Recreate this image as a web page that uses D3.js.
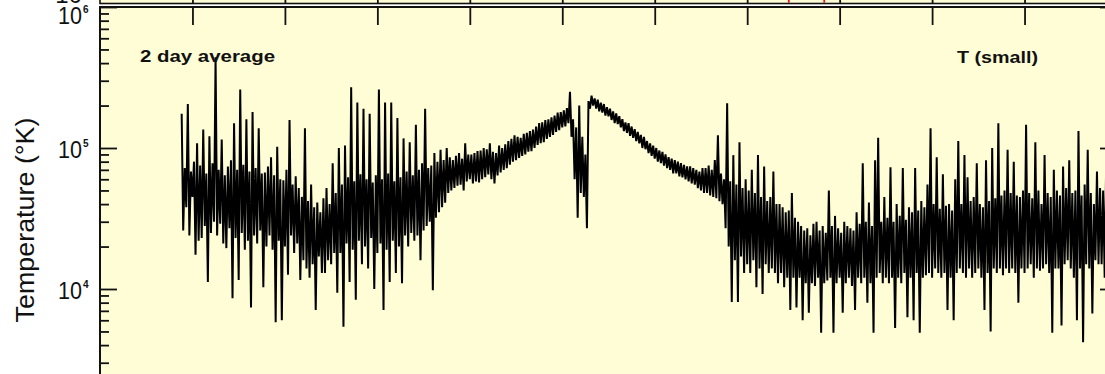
<!DOCTYPE html>
<html>
<head>
<meta charset="utf-8">
<script src="https://cdn.jsdelivr.net/npm/d3@7"></script>
<style>
  html, body { margin: 0; padding: 0; background: #ffffff; }
  svg { display: block; }
  text { font-family: "Liberation Sans", Arial, Helvetica, sans-serif; fill: #111; }
</style>
</head>
<body>
<svg id="chart" width="1105" height="374"></svg>
<script>
// ---- data -------------------------------------------------------------
// Time axis in days; tick marks every 60 days.
const tickDays = [60, 120, 180, 240, 300, 360, 420, 480, 540, 600];
// Event markers on the panel above.
const markerDays = [447, 470];
// Log-axis decades (K).
const decades = [1e3, 1e4, 1e5, 1e6];
const decadeExponents = ["3", "4", "5", "6"];
// First sample day and sampling step (daily values of the 2-day average).
const startDay = 53;
const stepDays = 1;
// Temperature, in units of 1000 K.
const temperature_kK = [
  175, 26, 72, 38, 205, 24, 68, 45, 80, 17.5,
  108, 22, 75, 23, 135, 28, 66, 11.2, 121, 25,
  78, 30, 440, 24, 70, 29, 115, 21, 64, 19.5,
  74, 27, 82, 8.6, 150, 23, 70, 11.6, 260, 25,
  76, 19, 160, 22, 68, 7.4, 180, 24, 72, 21,
  138, 26, 66, 10.3, 67, 20, 74, 24, 86, 19,
  64, 5.8, 102, 22, 60, 6, 59, 20, 70, 12.6,
  158, 24, 55, 18, 63, 21, 52, 11.6, 45, 16,
  138, 14, 42, 12, 55, 15, 38, 7.1, 41, 17,
  35, 13, 44, 13, 52, 16, 40, 15, 78, 18,
  48, 9.4, 100, 18, 55, 5.4, 104, 21, 62, 11.2,
  270, 19, 58, 8.4, 210, 22, 65, 15, 190, 20,
  60, 14, 175, 23, 57, 10, 64, 18, 260, 21,
  60, 7.1, 210, 19, 66, 11.2, 210, 22, 58, 13,
  163, 20, 62, 11, 117, 24, 68, 20, 110, 25,
  64, 22, 146, 24, 70, 16, 78, 26, 190, 28,
  72, 30, 75, 9.8, 92, 32, 80, 35, 97, 38,
  82, 41, 100, 48, 86, 50, 82, 52, 88, 54,
  92, 55, 84, 50, 108, 58, 90, 60, 90, 56,
  92, 58, 95, 57, 96, 60, 100, 62, 98, 65,
  108, 60, 94, 56, 92, 64, 104, 67, 100, 70,
  106, 72, 112, 76, 116, 80, 123, 82, 120, 85,
  118, 88, 126, 90, 128, 94, 132, 95, 135, 100,
  142, 105, 150, 108, 152, 110, 158, 116, 160, 120,
  165, 124, 170, 130, 178, 134, 180, 140, 185, 142,
  192, 150, 250, 120, 160, 60, 140, 32, 200, 48,
  120, 45, 90, 27, 215, 190, 235, 200, 225, 190,
  220, 182, 210, 178, 205, 170, 195, 168, 190, 158,
  182, 150, 176, 148, 168, 140, 160, 132, 152, 128,
  150, 122, 142, 118, 136, 112, 130, 108, 124, 100,
  120, 98, 112, 92, 108, 88, 104, 84, 100, 80,
  96, 78, 94, 75, 90, 72, 86, 70, 84, 66,
  82, 66, 80, 63, 78, 62, 76, 60, 74, 58,
  74, 56, 72, 55, 70, 52, 68, 50, 72, 48,
  72, 48, 75, 46, 70, 45, 82, 44, 123, 42,
  66, 40, 60, 27, 208, 20, 58, 8.1, 89, 16,
  55, 8.1, 110, 17, 52, 13, 60, 15, 50, 13,
  70, 16, 48, 10.3, 89, 14, 45, 9.2, 74, 15,
  42, 13, 45, 14, 68, 13, 40, 11, 40, 13,
  38, 10.3, 35, 12, 36, 7.1, 48, 12, 32, 7.4,
  30, 12, 28, 6, 26, 11, 27, 6.8, 24, 11,
  29, 10.5, 30, 12, 26, 4.9, 28, 11, 25, 11.5,
  50, 12, 28, 4.9, 33, 11, 27, 12, 25, 6.8,
  30, 11, 28, 12, 27, 10.5, 26, 7.1, 35, 12,
  29, 11, 78, 12, 30, 8, 41, 11, 28, 4.9,
  82, 12, 118, 13, 30, 11, 45, 12, 32, 11,
  73, 12, 30, 5.3, 40, 12, 33, 11, 72, 13,
  31, 6.3, 38, 12, 35, 6, 72, 13, 36, 4.9,
  42, 12, 38, 12.5, 55, 13, 138, 12, 40, 14,
  86, 13, 37, 12, 65, 13, 39, 7.1, 40, 12,
  36, 6, 60, 13, 112, 14, 40, 13, 89, 12,
  62, 14, 42, 12, 45, 13, 78, 14, 40, 12,
  38, 7.1, 82, 13, 42, 5, 100, 14, 44, 13,
  150, 14, 46, 12.5, 50, 14, 97, 13, 48, 14,
  80, 13, 46, 8, 45, 14, 50, 13, 146, 14,
  48, 15, 44, 12, 110, 14, 50, 13.5, 40, 14,
  89, 15, 48, 13, 45, 4.9, 70, 14, 50, 14,
  46, 5.5, 74, 15, 52, 16, 82, 14, 48, 12,
  50, 6, 132, 14, 46, 4.2, 55, 15, 97, 14,
  48, 6.7, 40, 16, 68, 15, 52, 15, 50, 12,
  82, 15, 55, 16, 70, 14, 52, 15, 60, 16, 54, 20
];
const panelTitle = "2 day average";
const seriesName = "T (small)";
const yTitle = "Temperature (\u00B0K)";

// ---- layout -----------------------------------------------------------
const svg = d3.select("#chart");
const W = 1105, H = 374;
const plotLeft = 100, plotRight = 1117;
const plotTop = 7, plotBottom = 430;   // lower edge lies below the visible area
const prevBottom = 3.5;                // lower edge of the panel above
const bg = "#fffdd6";
const ink = "#111";

const x = d3.scaleLinear().domain([0, 660]).range([plotLeft, plotRight]);
const y = d3.scaleLog().domain([1e3, 1e6]).range([plotBottom, plotTop]);

const series = temperature_kK.map((v, i) => ({ day: startDay + i * stepDays, T: v * 1000 }));

// panel above (only its lower strip shows)
svg.append("rect").attr("x", plotLeft).attr("y", -40)
  .attr("width", plotRight - plotLeft).attr("height", prevBottom + 40)
  .attr("fill", bg).attr("stroke", ink).attr("stroke-width", 1.6);

svg.append("g").attr("transform", `translate(0,${prevBottom})`)
  .call(d3.axisTop(x).tickValues(tickDays).tickSize(18).tickFormat(""))
  .call(g => g.select(".domain").remove())
  .call(g => g.selectAll(".tick line").attr("stroke", ink).attr("stroke-width", 1.8));

svg.append("g").selectAll("line").data(markerDays).join("line")
  .attr("x1", d => x(d)).attr("x2", d => x(d))
  .attr("y1", prevBottom - 0.8).attr("y2", prevBottom - 12)
  .attr("stroke", "#e8141b").attr("stroke-width", 1.8);

// cut-off decade label of the panel above
svg.append("clipPath").attr("id", "above-clip")
  .append("rect").attr("x", 0).attr("y", -30).attr("width", plotLeft).attr("height", 33);
svg.append("text").attr("clip-path", "url(#above-clip)")
  .attr("x", 82).attr("y", 2.5).attr("text-anchor", "end")
  .attr("font-size", 24).text("10");

// main panel
svg.append("rect").attr("x", plotLeft).attr("y", plotTop)
  .attr("width", plotRight - plotLeft).attr("height", plotBottom - plotTop)
  .attr("fill", bg);

svg.append("clipPath").attr("id", "plot-clip")
  .append("rect").attr("x", plotLeft).attr("y", plotTop)
  .attr("width", plotRight - plotLeft).attr("height", plotBottom - plotTop);

const line = d3.line().x(d => x(d.day)).y(d => y(d.T));
svg.append("path").datum(series)
  .attr("clip-path", "url(#plot-clip)")
  .attr("fill", "none").attr("stroke", "#000").attr("stroke-width", 2)
  .attr("stroke-linejoin", "bevel").attr("d", line);

// log-axis ticks
const minorTicks = [];
for (let k = 0; k < decades.length - 1; k++) {
  for (let m = 2; m <= 9; m++) minorTicks.push(decades[k] * m);
}
function styleTicks(g) {
  g.select(".domain").remove();
  g.selectAll(".tick line").attr("stroke", ink).attr("stroke-width", 1.8);
}
svg.append("g").attr("transform", `translate(${plotLeft},0)`)
  .call(d3.axisRight(y).tickValues(decades).tickSize(17).tickFormat("")).call(styleTicks);
svg.append("g").attr("transform", `translate(${plotLeft},0)`)
  .call(d3.axisRight(y).tickValues(minorTicks).tickSize(9).tickFormat("")).call(styleTicks);
svg.append("g").attr("transform", `translate(${plotRight},0)`)
  .call(d3.axisLeft(y).tickValues(decades).tickSize(17).tickFormat("")).call(styleTicks);
svg.append("g").attr("transform", `translate(${plotRight},0)`)
  .call(d3.axisLeft(y).tickValues(minorTicks).tickSize(9).tickFormat("")).call(styleTicks);

// time-axis ticks along the top edge
svg.append("g").attr("transform", `translate(0,${plotTop})`)
  .call(d3.axisBottom(x).tickValues(tickDays).tickSize(18).tickFormat(""))
  .call(styleTicks);

// frame
svg.append("rect").attr("x", plotLeft).attr("y", plotTop)
  .attr("width", plotRight - plotLeft).attr("height", plotBottom - plotTop)
  .attr("fill", "none").attr("stroke", ink).attr("stroke-width", 2);

// decade labels 10^n
decades.forEach((v, k) => {
  const yy = y(v);
  if (yy > H + 20) return;
  const shift = (v === 1e6) ? 17 : 9.5;   // top label kept inside the frame
  const g = svg.append("g");
  g.append("text").attr("x", 82).attr("y", yy + shift).attr("text-anchor", "end")
    .attr("font-size", 24).attr("textLength", 24).attr("lengthAdjust", "spacingAndGlyphs").text("10");
  g.append("text").attr("x", 83).attr("y", yy + shift - 11).attr("font-size", 10)
    .attr("font-weight", "bold").text(decadeExponents[k]);
});

// axis title
svg.append("text")
  .attr("transform", "translate(34,220) rotate(-90)")
  .attr("text-anchor", "middle").attr("font-size", 25)
  .attr("textLength", 205).attr("lengthAdjust", "spacingAndGlyphs")
  .text(yTitle);

// panel annotations
svg.append("text").attr("x", 140).attr("y", 62).attr("font-size", 16).attr("font-weight", "bold")
  .attr("textLength", 135).attr("lengthAdjust", "spacingAndGlyphs").text(panelTitle);
svg.append("text").attr("x", 957).attr("y", 63).attr("font-size", 16).attr("font-weight", "bold")
  .attr("textLength", 81).attr("lengthAdjust", "spacingAndGlyphs").text(seriesName);
</script>
</body>
</html>
